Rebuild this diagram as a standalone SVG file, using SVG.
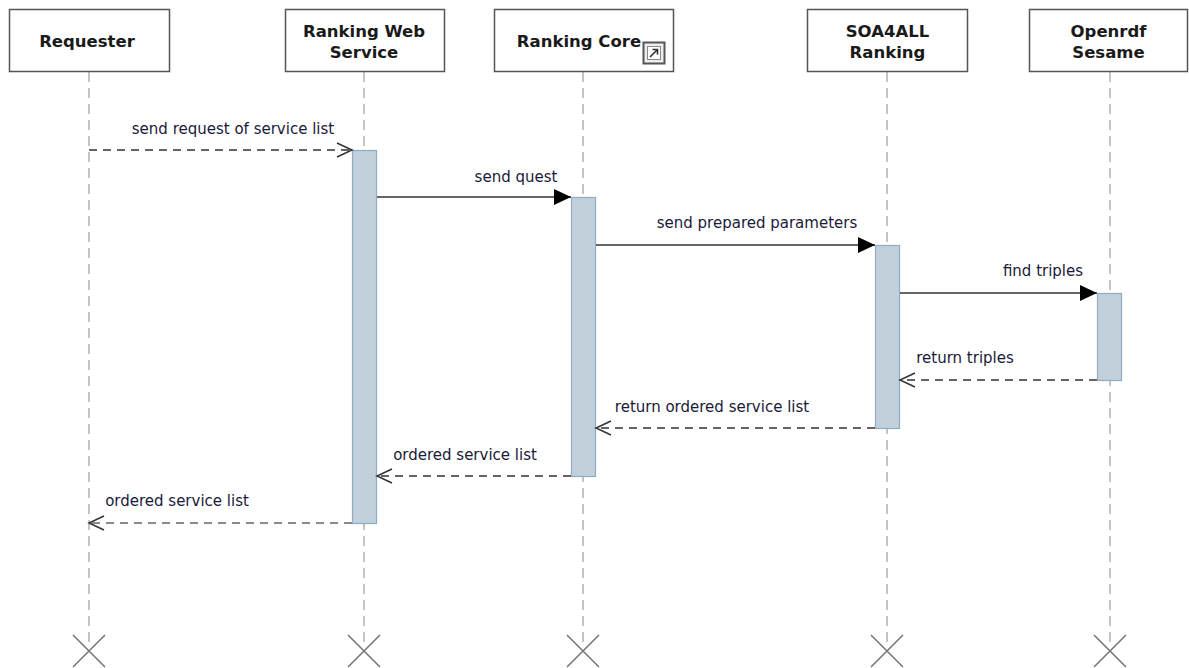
<svg xmlns="http://www.w3.org/2000/svg" width="1189" height="668" viewBox="0 0 1189 668">
<style>
.box{fill:#fff;stroke:#555;stroke-width:1.5}
.title{font-family:"DejaVu Sans",sans-serif;font-weight:bold;font-size:16.5px;fill:#1a1a1a;text-anchor:middle}
.life{stroke:#c4c4c4;stroke-width:2;stroke-dasharray:10,6;fill:none}
.x{stroke:#777;stroke-width:1.6;fill:none}
.act{fill:#c2d0dc;stroke:#90aac0;stroke-width:1.2}
.msg{stroke:#333;stroke-width:1.5;fill:none}
.ret{stroke:#333;stroke-width:1.5;fill:none;stroke-dasharray:8,6}
.lbl{font-family:"DejaVu Sans",sans-serif;font-size:15px;fill:#1a1a3a;text-anchor:middle}
</style>
<defs>
<marker id="filled" markerWidth="18" markerHeight="18" refX="17" refY="9" orient="auto" markerUnits="userSpaceOnUse">
<path d="M0,1 L17,9 L0,17 Z" fill="#000"/>
</marker>
<marker id="open" markerWidth="18" markerHeight="18" refX="16" refY="9" orient="auto" markerUnits="userSpaceOnUse">
<path d="M1,2 L16,9 L1,16" fill="none" stroke="#333" stroke-width="1.5"/>
</marker>
</defs>
<g id="lifelines">
<line class="life" x1="89" y1="72" x2="89" y2="645"/>
<line class="life" x1="364" y1="72" x2="364" y2="645"/>
<line class="life" x1="583" y1="72" x2="583" y2="645"/>
<line class="life" x1="887" y1="72" x2="887" y2="645"/>
<line class="life" x1="1110" y1="72" x2="1110" y2="645"/>
<path class="x" d="M73,635 L105,667 M105,635 L73,667"/>
<path class="x" d="M348,635 L380,667 M380,635 L348,667"/>
<path class="x" d="M567,635 L599,667 M599,635 L567,667"/>
<path class="x" d="M871,635 L903,667 M903,635 L871,667"/>
<path class="x" d="M1094,635 L1126,667 M1126,635 L1094,667"/>
</g>
<g id="requester">
<rect class="box" x="9.5" y="9.5" width="160" height="62"/>
<text class="title" x="87" y="47">Requester</text>
</g>
<g id="ranking-web-service">
<rect class="box" x="285.5" y="9.5" width="159" height="62"/>
<text class="title" x="364" y="37">Ranking Web</text>
<text class="title" x="364" y="58">Service</text>
</g>
<g id="ranking-core">
<rect class="box" x="494.5" y="9.5" width="179" height="62"/>
<text class="title" x="579" y="47">Ranking Core</text>
<rect x="643.5" y="42.5" width="21" height="21" fill="#eee" stroke="#555" stroke-width="2"/>
<rect x="647.5" y="46.5" width="13" height="13" fill="#fff" stroke="#888" stroke-width="1"/>
<path d="M650,57 L657,50 M652.5,49.5 L657.5,49.5 L657.5,54.5" stroke="#333" stroke-width="1.6" fill="none"/>
</g>
<g id="soa4all-ranking">
<rect class="box" x="807.5" y="9.5" width="160" height="62"/>
<text class="title" x="887.5" y="37">SOA4ALL</text>
<text class="title" x="887.5" y="58">Ranking</text>
</g>
<g id="openrdf-sesame">
<rect class="box" x="1029.5" y="9.5" width="158" height="62"/>
<text class="title" x="1108.5" y="37">Openrdf</text>
<text class="title" x="1108.5" y="58">Sesame</text>
</g>
<g id="activations">
<rect class="act" x="352.5" y="150.5" width="24" height="373"/>
<rect class="act" x="571.5" y="197.5" width="24" height="279"/>
<rect class="act" x="875.5" y="245.5" width="24" height="183"/>
<rect class="act" x="1097.5" y="293.5" width="24" height="87"/>
</g>
<g id="connectors">
<line class="ret" x1="89" y1="150" x2="352" y2="150" marker-end="url(#open)"/>
<line class="msg" x1="377" y1="197" x2="571" y2="197" marker-end="url(#filled)"/>
<line class="msg" x1="596" y1="245" x2="875" y2="245" marker-end="url(#filled)"/>
<line class="msg" x1="900" y1="293" x2="1097" y2="293" marker-end="url(#filled)"/>
<line class="ret" x1="1097" y1="380" x2="900" y2="380" marker-end="url(#open)"/>
<line class="ret" x1="875" y1="428" x2="596" y2="428" marker-end="url(#open)"/>
<line class="ret" x1="571" y1="476" x2="377" y2="476" marker-end="url(#open)"/>
<line class="ret" x1="352" y1="523" x2="89" y2="523" marker-end="url(#open)" style="stroke:#666"/>
</g>
<g id="labels">
<text class="lbl" x="233" y="134">send request of service list</text>
<text class="lbl" x="516" y="182">send quest</text>
<text class="lbl" x="757" y="228">send prepared parameters</text>
<text class="lbl" x="1043" y="276">find triples</text>
<text class="lbl" x="965" y="363">return triples</text>
<text class="lbl" x="712" y="412">return ordered service list</text>
<text class="lbl" x="465" y="460">ordered service list</text>
<text class="lbl" x="177" y="506">ordered service list</text>
</g>
</svg>
